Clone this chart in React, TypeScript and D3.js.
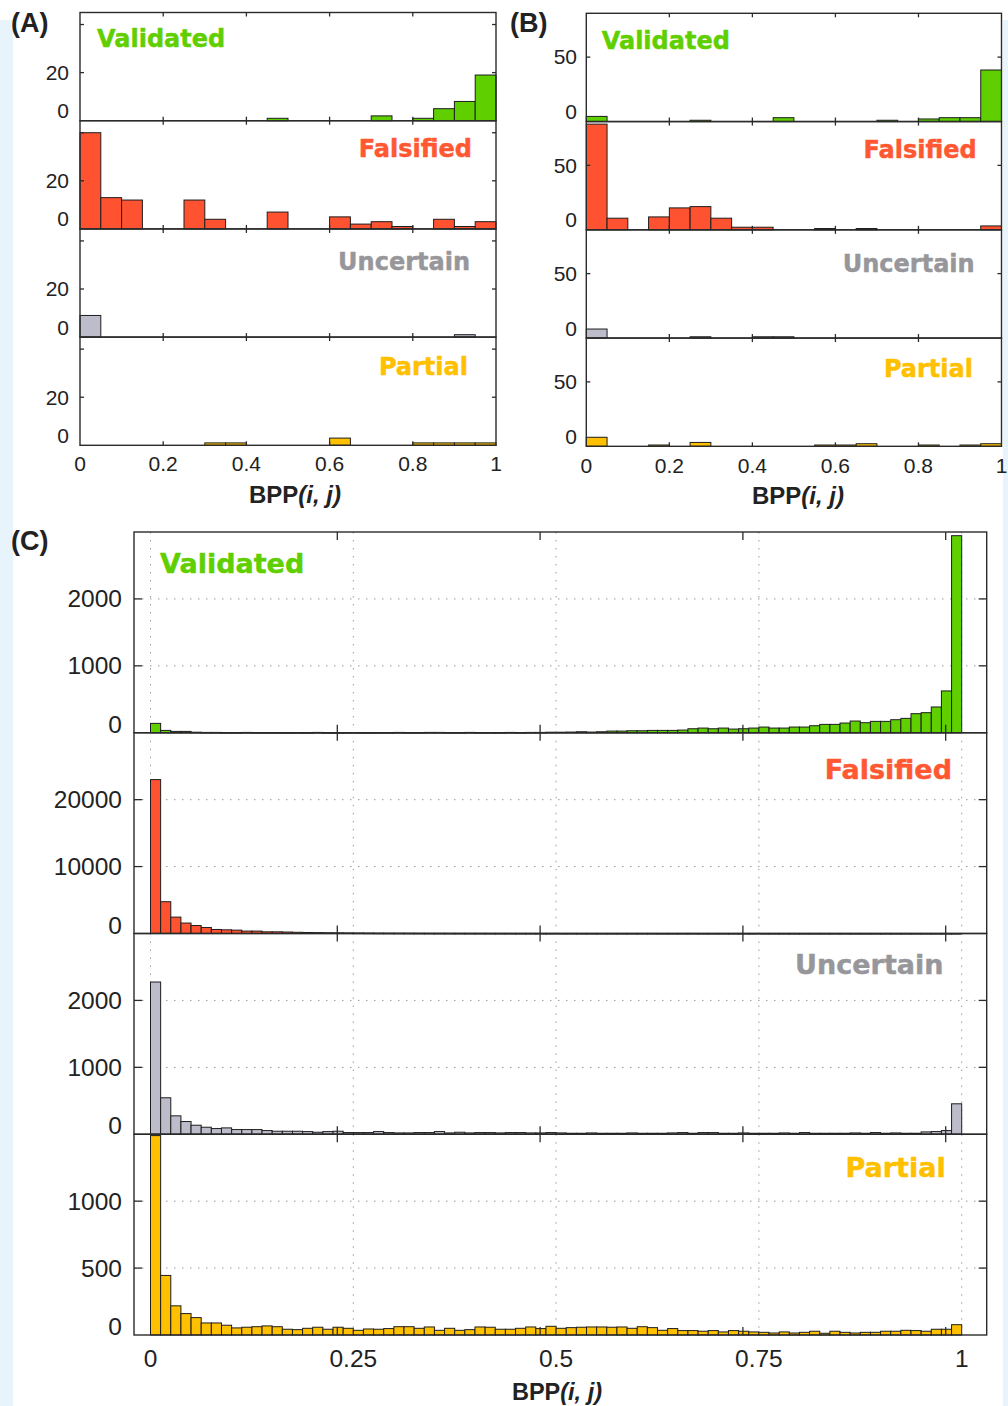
import React from 'react';
import * as d3 from 'd3';

// ---------------- DATA ----------------
const categories = ['Validated', 'Falsified', 'Uncertain', 'Partial'];

// Panel A: counts in 20 bins of width 0.05
const validatedA = [0, 0, 0, 0, 0, 0, 0, 0, 0, 1, 0, 0, 0, 0, 2, 0, 1, 5, 8, 19];
const falsifiedA = [40, 13, 12, 0, 0, 12, 4, 0, 0, 7, 0, 0, 5, 2, 3, 1, 0, 4, 1, 3];
const uncertainA = [9, 0, 0, 0, 0, 0, 0, 0, 0, 0, 0, 0, 0, 0, 0, 0, 0, 0, 1, 0];
const partialA = [0, 0, 0, 0, 0, 0, 1, 1, 0, 0, 0, 0, 3, 0, 0, 0, 1, 1, 1, 1];

// Panel B: counts in 20 bins of width 0.05
const validatedB = [4, 0, 0, 0, 0, 1, 0, 0, 0, 3, 0, 0, 0, 0, 1, 0, 2, 3, 3, 40];
const falsifiedB = [82, 9, 0, 10, 17, 18, 9, 2, 2, 0, 0, 1, 0, 1, 0, 0, 0, 0, 0, 3];
const uncertainB = [7, 0, 0, 0, 0, 1, 0, 0, 1, 1, 0, 0, 0, 0, 0, 0, 0, 0, 0, 0];
const partialB = [7, 0, 0, 1, 0, 3, 0, 0, 0, 0, 0, 1, 1, 2, 0, 0, 1, 0, 1, 2];

// Panel C: counts in 80 bins of width 0.0125
const validatedC = [
  140, 35, 20, 20, 8, 5, 5, 3, 3, 5, 3, 3, 3, 2, 3, 2, 5, 2, 2, 3,
  3, 2, 3, 3, 5, 3, 3, 5, 5, 3, 3, 5, 3, 3, 3, 5, 3, 5, 5, 8,
  8, 10, 15, 10, 15, 25, 25, 30, 30, 35, 35, 35, 40, 60, 70, 60, 70, 55, 60, 70,
  85, 70, 70, 85, 85, 105, 125, 125, 145, 175, 150, 170, 170, 195, 215, 285, 300, 385, 625, 2945,
];
const falsifiedC = [
  23000, 4750, 2450, 1560, 1200, 900, 600, 550, 500, 360,
  360, 250, 250, 220, 180, 150, 130, 110, 95, 85,
  75, 65, 55, 50, 45, 40, 35, 30, 28, 25,
  22, 20, 18, 15, 14, 13, 12, 11, 10, 10,
  9, 9, 8, 8, 7, 7, 7, 6, 6, 6,
  5, 5, 5, 5, 4, 4, 4, 4, 4, 3,
  3, 3, 3, 3, 3, 3, 2, 2, 2, 2,
  2, 2, 2, 2, 2, 2, 2, 2, 2, 3,
];
const uncertainC = [
  2275, 545, 275, 190, 135, 105, 85, 95, 70, 70,
  70, 55, 45, 45, 45, 40, 30, 40, 45, 25,
  25, 25, 40, 25, 20, 20, 25, 25, 40, 20,
  30, 20, 25, 25, 20, 25, 25, 20, 20, 25,
  20, 15, 15, 20, 15, 15, 15, 20, 15, 15,
  15, 20, 25, 15, 25, 25, 15, 15, 20, 15,
  15, 15, 20, 15, 25, 15, 15, 15, 15, 20,
  15, 25, 15, 20, 15, 15, 35, 40, 55, 455,
];
const partialC = [
  1490, 445, 218, 160, 130, 90, 90, 73, 53, 58,
  62, 68, 62, 43, 40, 50, 58, 43, 58, 50,
  35, 45, 43, 48, 62, 62, 50, 60, 35, 50,
  35, 40, 60, 58, 43, 43, 50, 60, 48, 65,
  50, 55, 58, 60, 60, 58, 60, 50, 62, 55,
  35, 48, 33, 33, 28, 33, 23, 33, 28, 23,
  20, 15, 23, 15, 20, 28, 13, 28, 20, 15,
  20, 20, 28, 28, 35, 33, 28, 43, 43, 77,
];

const xTicksAB = [0, 0.2, 0.4, 0.6, 0.8, 1];
const xTickLabelsAB = ['0', '0.2', '0.4', '0.6', '0.8', '1'];
const xTicksC = [0, 0.25, 0.5, 0.75, 1];
const xTickLabelsC = ['0', '0.25', '0.5', '0.75', '1'];

const yMaxA = 45;
const yTicksA = [0, 20, 40];
const yLabelsA = [0, 20];
const yMaxB = 84;
const yTicksB = [0, 50];
const yLabelsB = [0, 50];
const yMaxC = [3000, 30000, 3000, 1500];
const yTicksC = [
  [0, 1000, 2000],
  [0, 10000, 20000],
  [0, 1000, 2000],
  [0, 500, 1000],
];

// ---------------- STYLE ----------------
const barFills = ['#5fcf00', '#ff5230', '#bdbccb', '#ffc000'];
const labelFills = ['#5fcf00', '#ff5832', '#97979b', '#ffc000'];
const AXIS = '#2b2b2b';
const TICKFONT = "'Liberation Sans', Arial, Helvetica, sans-serif";
const CATFONT = "'DejaVu Sans', Verdana, sans-serif";

type LabelPos = { anchor: 'start' | 'end'; x: number; dy: number };

type PanelProps = {
  series: number[][];
  left: number;
  right: number;
  xZero: number;
  xOne: number;
  top: number;
  h: number;
  yMax: number[];
  yTicks: number[][];
  yLabels: number[][];
  xTicks: number[];
  xTickLabels: string[];
  tickShift: number;
  tickLen: number;
  grid: boolean;
  catSize: number;
  catPos: LabelPos[];
  tickFont: number;
  yLabelX: number;
  zeroDy: number;
  labelDy: number;
  xLabelY: number;
  xTitleX: number;
  xTitleY: number;
  xTitleSize: number;
  letter: string;
  letterX: number;
  letterY: number;
};

function Panel(p: PanelProps) {
  const xs = d3.scaleLinear().domain([0, 1]).range([p.xZero, p.xOne]);
  const out: React.ReactNode[] = [];
  p.series.forEach((vals, k) => {
    const top = p.top + k * p.h;
    const bottom = top + p.h;
    const ys = d3.scaleLinear().domain([0, p.yMax[k]]).range([bottom, top]);
    const bw = 1 / vals.length;
    const g: React.ReactNode[] = [];
    if (p.grid) {
      p.xTicks.forEach((t, i) =>
        g.push(
          <line key={'gx' + i} x1={xs(t)} x2={xs(t)} y1={top} y2={bottom}
            stroke="#9a9a9a" strokeWidth={1} strokeDasharray="1.5,6.5" />
        )
      );
      p.yTicks[k].filter((t) => t > 0).forEach((t, i) =>
        g.push(
          <line key={'gy' + i} x1={p.left} x2={p.right} y1={ys(t)} y2={ys(t)}
            stroke="#9a9a9a" strokeWidth={1} strokeDasharray="1.5,6.5" />
        )
      );
    }
    vals.forEach((v, i) => {
      if (v <= 0) return;
      const x0 = xs(i * bw);
      const x1 = xs((i + 1) * bw);
      g.push(
        <rect key={'b' + i} x={x0} y={ys(v)} width={x1 - x0} height={Math.max(0.6, ys(0) - ys(v))}
          fill={barFills[k]} stroke="#1e1e1e" strokeWidth={1} />
      );
    });
    g.push(
      <rect key="frame" x={p.left} y={top} width={p.right - p.left} height={p.h}
        fill="none" stroke={AXIS} strokeWidth={1.4} />
    );
    p.xTicks.forEach((t, i) => {
      const x = xs(t) + p.tickShift;
      if (x <= p.left + 1 || x >= p.right - 1) return;
      g.push(<line key={'xt' + i} x1={x} x2={x} y1={bottom} y2={bottom - p.tickLen} stroke={AXIS} strokeWidth={1.3} />);
      g.push(<line key={'xtt' + i} x1={x} x2={x} y1={top} y2={top + p.tickLen} stroke={AXIS} strokeWidth={1.3} />);
    });
    p.yTicks[k].forEach((t, i) => {
      if (t <= 0) return;
      const y = ys(t);
      g.push(<line key={'yt' + i} x1={p.left} x2={p.left + p.tickLen} y1={y} y2={y} stroke={AXIS} strokeWidth={1.3} />);
      g.push(<line key={'ytr' + i} x1={p.right} x2={p.right - p.tickLen} y1={y} y2={y} stroke={AXIS} strokeWidth={1.3} />);
    });
    p.yLabels[k].forEach((t, i) => {
      const y = t === 0 ? bottom + p.zeroDy : ys(t) + p.labelDy;
      g.push(
        <text key={'yl' + i} x={p.yLabelX} y={y} textAnchor="end" fontFamily={TICKFONT}
          fontSize={p.tickFont} fill="#222">{String(t)}</text>
      );
    });
    const cp = p.catPos[k];
    g.push(
      <text key="cat" x={cp.x} y={top + cp.dy} textAnchor={cp.anchor} fontFamily={CATFONT}
        fontWeight="bold" fontSize={p.catSize} fill={labelFills[k]}
        stroke={labelFills[k]} strokeWidth={0.45} strokeLinejoin="round">{categories[k]}</text>
    );
    out.push(<g key={'sub' + k}>{g}</g>);
  });
  p.xTicks.forEach((t, i) =>
    out.push(
      <text key={'xl' + i} x={xs(t)} y={p.xLabelY} textAnchor="middle" fontFamily={TICKFONT}
        fontSize={p.tickFont} fill="#222">{p.xTickLabels[i]}</text>
    )
  );
  out.push(
    <text key="xtitle" x={p.xTitleX} y={p.xTitleY} textAnchor="middle" fontFamily={TICKFONT}
      fontWeight="bold" fontSize={p.xTitleSize} fill="#222">
      BPP<tspan fontStyle="italic">(i, j)</tspan>
    </text>
  );
  out.push(
    <text key="letter" x={p.letterX} y={p.letterY} fontFamily={TICKFONT} fontWeight="bold"
      fontSize={27} fill="#222">{p.letter}</text>
  );
  return <g>{out}</g>;
}

export default function App() {
  const W = 1008;
  const H = 1406;
  const common = {
    xTicks: xTicksAB,
    xTickLabels: xTickLabelsAB,
    tickShift: 0,
    tickLen: 4,
    grid: false,
    catSize: 24,
    tickFont: 21,
    zeroDy: -2.5,
    labelDy: 7.3,
    xTitleSize: 24,
  };
  return (
    <svg width={W} height={H} viewBox={`0 0 ${W} ${H}`}
      style={{ position: 'absolute', left: 0, top: 0, display: 'block', background: '#ffffff' }}>
      <rect x={0} y={0} width={W} height={H} fill="#ffffff" />
      <rect x={0} y={20} width={13} height={H - 20} fill="#e8f4fb" />
      <rect x={1003} y={20} width={5} height={H - 20} fill="#e8f4fb" />
      <Panel
        {...common}
        series={[validatedA, falsifiedA, uncertainA, partialA]}
        left={80} right={496} xZero={80} xOne={496} top={12.5} h={108.2}
        yMax={[yMaxA, yMaxA, yMaxA, yMaxA]}
        yTicks={[yTicksA, yTicksA, yTicksA, yTicksA]}
        yLabels={[yLabelsA, yLabelsA, yLabelsA, yLabelsA]}
        catPos={[
          { anchor: 'start', x: 97, dy: 34.5 },
          { anchor: 'end', x: 472, dy: 36 },
          { anchor: 'end', x: 470, dy: 41 },
          { anchor: 'end', x: 468, dy: 38 },
        ]}
        yLabelX={69}
        xLabelY={471}
        xTitleX={295} xTitleY={503}
        letter="(A)" letterX={11} letterY={32}
      />
      <Panel
        {...common}
        series={[validatedB, falsifiedB, uncertainB, partialB]}
        left={586.3} right={1001.5} xZero={586.3} xOne={1001.5} top={13.3} h={108.25}
        yMax={[yMaxB, yMaxB, yMaxB, yMaxB]}
        yTicks={[yTicksB, yTicksB, yTicksB, yTicksB]}
        yLabels={[yLabelsB, yLabelsB, yLabelsB, yLabelsB]}
        catPos={[
          { anchor: 'start', x: 601.7, dy: 35.7 },
          { anchor: 'end', x: 976.7, dy: 36.8 },
          { anchor: 'end', x: 974.7, dy: 42 },
          { anchor: 'end', x: 973, dy: 39.3 },
        ]}
        yLabelX={577}
        xLabelY={473}
        xTitleX={798} xTitleY={504}
        letter="(B)" letterX={510} letterY={32}
      />
      <Panel
        series={[validatedC, falsifiedC, uncertainC, partialC]}
        left={134} right={986.7} xZero={150.5} xOne={961.7} top={532} h={200.75}
        yMax={yMaxC}
        yTicks={yTicksC}
        yLabels={yTicksC}
        xTicks={xTicksC}
        xTickLabels={xTickLabelsC}
        tickShift={-16}
        tickLen={8}
        grid={true}
        catSize={27}
        catPos={[
          { anchor: 'start', x: 160, dy: 41 },
          { anchor: 'end', x: 952, dy: 46 },
          { anchor: 'end', x: 943.5, dy: 40.6 },
          { anchor: 'end', x: 945.7, dy: 43.2 },
        ]}
        tickFont={24.5}
        yLabelX={122}
        zeroDy={0}
        labelDy={8.5}
        xLabelY={1366.5}
        xTitleX={557} xTitleY={1400}
        xTitleSize={23.5}
        letter="(C)" letterX={11} letterY={550}
      />
    </svg>
  );
}
